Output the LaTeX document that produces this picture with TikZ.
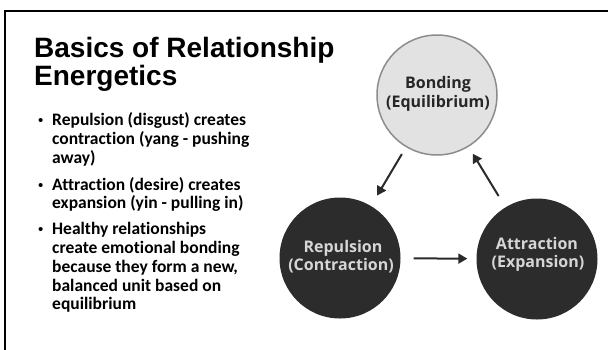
\documentclass[tikz,border=0pt]{standalone}
\usepackage{fontspec}
\setmainfont[Ligatures=NoCommon]{Carlito}
\newfontfamily\titlefont{Liberation Sans}
\newfontfamily\circfont[Ligatures=NoCommon]{Open Sans}
\newfontfamily\bulfont{Liberation Sans}
\usetikzlibrary{arrows.meta}
\definecolor{darkfill}{HTML}{2C2C2C}
\definecolor{lightfill}{HTML}{E2E2E2}
\definecolor{lightedge}{HTML}{8C8C8C}
\definecolor{arrowcol}{HTML}{2A2A2A}
\definecolor{lighttext}{HTML}{D6D6D6}
\tikzset{
  titletext/.style={anchor=base west, inner sep=0pt, font=\titlefont\bfseries\fontsize{28}{28}\selectfont},
  bodytext/.style={anchor=base west, inner sep=0pt, font=\bfseries\fontsize{17.5}{18.7}\selectfont},
  bullettext/.style={anchor=base west, inner sep=0pt, font=\bulfont\fontsize{15}{15}\selectfont},
  darkcirc/.style={circle, fill=darkfill, minimum size=121pt, inner sep=0pt},
  lightcirc/.style={circle, fill=lightfill, draw=lightedge, line width=1.5pt, minimum size=120pt, inner sep=0pt},
  circtext/.style={anchor=base, inner sep=0pt, font=\circfont\bfseries\fontsize{16}{16}\selectfont},
  arr/.style={draw=arrowcol, line width=2pt, -{Triangle[length=9pt,width=10pt]}},
  frameline/.style={draw=black, line width=2pt}
}
\begin{document}
\begin{tikzpicture}[x=1pt,y=-1pt]
\useasboundingbox (0,0) rectangle (608,349);
% frame
\coordinate (fbl) at (4.5,352);
\coordinate (ftl) at (4.5,10.5);
\coordinate (ftr) at (612,10.5);
\draw[frameline] (fbl) -- (ftl) -- (ftr);
% title
\node[titletext] (t1) at (34,57) {Basics of Relationship};
\node[titletext] (t2) at (34,85) {Energetics};
% bullets
\node[bullettext] (d1) at (38,125) {•};
\node[bodytext] (l1) at (52,125) {Repulsion (disgust) creates};
\node[bodytext] (l2) at (52,144) {contraction (yang - pushing};
\node[bodytext] (l3) at (52,163) {away)};
\node[bullettext] (d2) at (38,190) {•};
\node[bodytext] (l4) at (52,190) {Attraction (desire) creates};
\node[bodytext] (l5) at (52,208.5) {expansion (yin - pulling in)};
\node[bullettext] (d3) at (38,234) {•};
\node[bodytext] (l6) at (52,234) {Healthy relationships};
\node[bodytext] (l7) at (52,253) {create emotional bonding};
\node[bodytext] (l8) at (52,272) {because they form a new,};
\node[bodytext] (l9) at (52,291) {balanced unit based on};
\node[bodytext] (l10) at (52,309.5) {equilibrium};
% circles
\node[lightcirc] (bond) at (437,95) {};
\node[darkcirc] (rep) at (340,258) {};
\node[darkcirc] (attr) at (537,259) {};
\node[circtext, text=black!85] (bt1) at (438,88) {Bonding};
\node[circtext, text=black!85] (bt2) at (438,107) {(Equilibrium)};
\node[circtext, text=lighttext] (rt1) at (343,252) {Repulsion};
\node[circtext, text=lighttext] (rt2) at (341,270) {(Contraction)};
\node[circtext, text=lighttext] (at1) at (537,249) {Attraction};
\node[circtext, text=lighttext] (at2) at (538,267) {(Expansion)};
% arrows
\draw[arr, shorten <=8pt, shorten >=12pt] (bond) -- (rep);
\draw[arr, shorten <=13pt, shorten >=8pt] (attr) -- (bond);
\draw[arr, shorten <=13pt, shorten >=9pt] (rep) -- (attr);
\end{tikzpicture}
\end{document}
